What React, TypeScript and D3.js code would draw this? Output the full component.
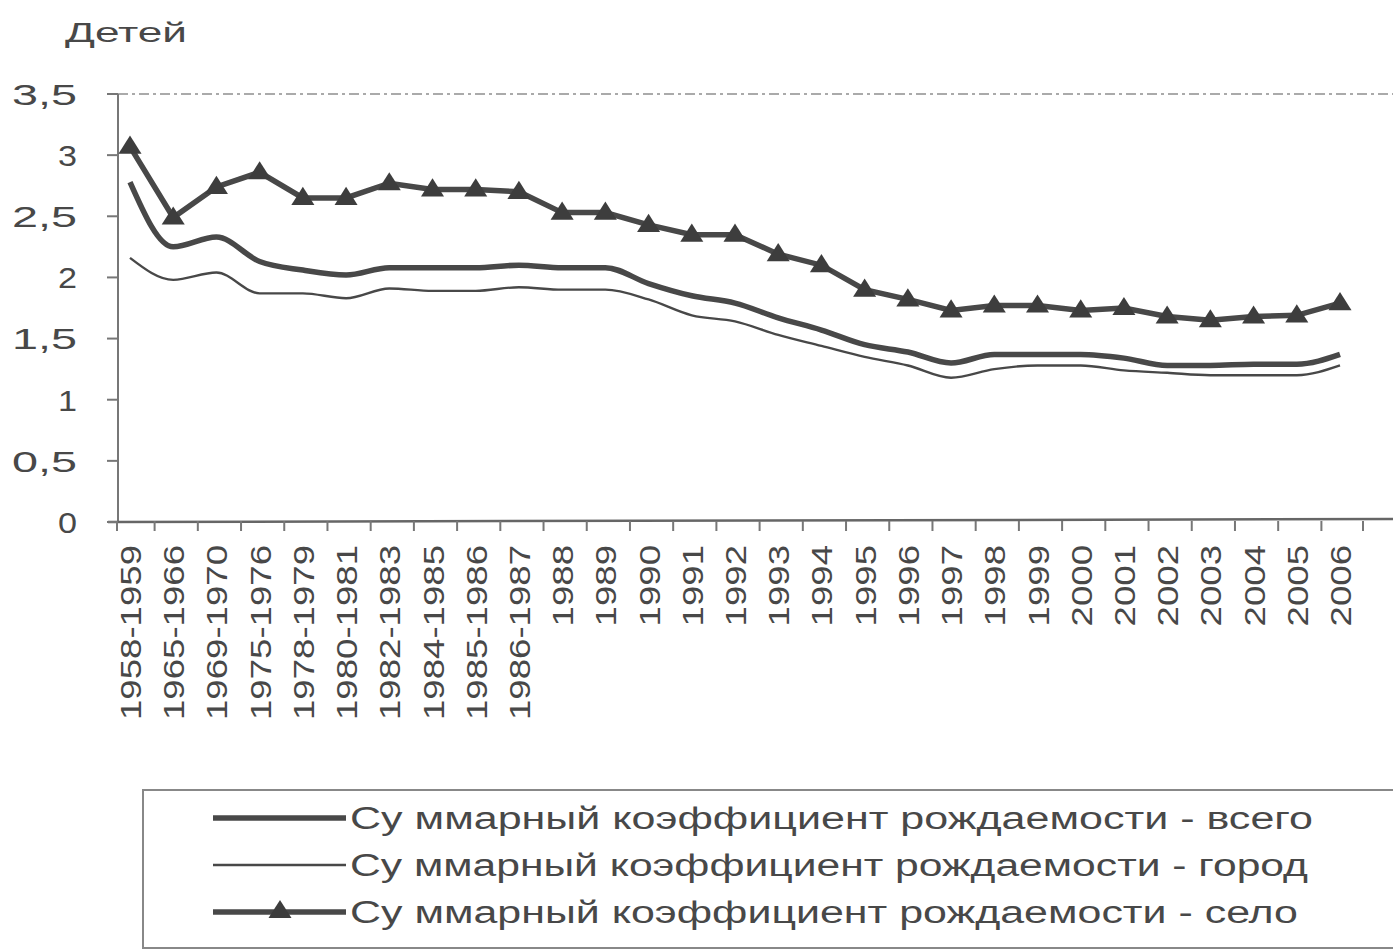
import * as d3 from 'd3'

const categories = [
  '1958-1959', '1965-1966', '1969-1970', '1975-1976', '1978-1979', '1980-1981',
  '1982-1983', '1984-1985', '1985-1986', '1986-1987', '1988', '1989', '1990',
  '1991', '1992', '1993', '1994', '1995', '1996', '1997', '1998', '1999', '2000',
  '2001', '2002', '2003', '2004', '2005', '2006',
]

const total = [
  2.78, 2.25, 2.33, 2.13, 2.06, 2.02, 2.08, 2.08, 2.08, 2.1, 2.08, 2.08, 1.95,
  1.85, 1.79, 1.67, 1.57, 1.45, 1.39, 1.3, 1.37, 1.37, 1.37, 1.34, 1.28, 1.28,
  1.29, 1.29, 1.37,
]

const city = [
  2.16, 1.98, 2.04, 1.87, 1.87, 1.83, 1.91, 1.89, 1.89, 1.92, 1.9, 1.9, 1.82,
  1.69, 1.64, 1.53, 1.44, 1.35, 1.28, 1.18, 1.25, 1.28, 1.28, 1.24, 1.22, 1.2,
  1.2, 1.2, 1.28,
]

const village = [
  3.07, 2.49, 2.74, 2.86, 2.65, 2.65, 2.77, 2.72, 2.72, 2.7, 2.53, 2.53, 2.43,
  2.35, 2.35, 2.19, 2.1, 1.9, 1.82, 1.73, 1.77, 1.77, 1.73, 1.75, 1.68, 1.65,
  1.68, 1.69, 1.79,
]

const yTicks = [0, 0.5, 1, 1.5, 2, 2.5, 3, 3.5]

const legendLabels = [
  'Су ммарный коэффициент рождаемости - всего',
  'Су ммарный коэффициент рождаемости - город',
  'Су ммарный коэффициент рождаемости - село',
]

const W = 1393, H = 952
const ink = '#484848'
const font = 'Liberation Sans, Arial, sans-serif'

const x = d3.scalePoint<string>().domain(categories).range([130, 1340])
const y = d3.scaleLinear().domain([0, 3.5]).range([522, 94])
const line = (curve: d3.CurveFactory) => d3.line<number>()
  .x((_, i) => x(categories[i])!)
  .y(d => y(d))
  .curve(curve)

const tri = d3.symbol().type(d3.symbolTriangle).size(190)()

const fmt = (v: number) => String(v).replace('.', ',')

export default function App() {
  const step = x.step()
  const xTicks = [117, ...categories.slice(1).map(c => x(c)! - step / 2 + 3), 1363]
  return (
    <svg width={W} height={H} style={{ position: 'absolute', left: 0, top: 0, background: '#fff' }}
      fontFamily={font} fill={ink}>
      <text x={65} y={42} fontSize={28} textLength={122} lengthAdjust="spacingAndGlyphs">Детей</text>

      {/* frame */}
      <line x1={118} x2={1393} y1={y(3.5)} y2={y(3.5)} stroke="#aaa" strokeWidth={2} strokeDasharray="10 4 3 4" />
      <line x1={118} x2={118} y1={y(3.5)} y2={y(0)} stroke="#777" strokeWidth={2} />
      <line x1={108} x2={1393} y1={y(0)} y2={y(0) - 3} stroke="#666" strokeWidth={2.5} />

      {yTicks.map(t => (
        <g key={t}>
          <line x1={107} x2={118} y1={y(t)} y2={y(t)} stroke="#777" strokeWidth={2} />
          <text x={77} y={y(t)} dy="0.36em" textAnchor="end" fontSize={30}
            textLength={String(t).length > 1 ? 65 : 19}
            lengthAdjust="spacingAndGlyphs">{fmt(t)}</text>
        </g>
      ))}

      {xTicks.map((tx, i) => (
        <line key={i} x1={tx} x2={tx} y1={y(0) - 1} y2={y(0) + 9} stroke="#777" strokeWidth={2} />
      ))}

      {categories.map(c => (
        <text key={c} transform={`translate(${x(c)! + 11},545) rotate(-90) scale(1.22,1)`} textAnchor="end"
          fontSize={30}>{c}</text>
      ))}

      <path d={line(d3.curveMonotoneX)(city)!} fill="none" stroke={ink} strokeWidth={2.4} />
      <path d={line(d3.curveMonotoneX)(total)!} fill="none" stroke={ink} strokeWidth={5.5} />
      <path d={line(d3.curveLinear)(village)!} fill="none" stroke={ink} strokeWidth={5.5} />
      {village.map((v, i) => (
        <path key={i} d={tri!} transform={`translate(${x(categories[i])},${y(v) + 1}) scale(1.1,1)`} fill="#3d3d3d" />
      ))}

      {/* legend */}
      <rect x={143} y={790} width={1270} height={158} fill="none" stroke="#888" strokeWidth={2} />
      {legendLabels.map((l, i) => {
        const ly = 818 + i * 47
        return (
          <g key={l}>
            <line x1={213} x2={346} y1={ly} y2={ly} stroke={ink} strokeWidth={i === 1 ? 2.5 : 5.5} />
            {i === 2 && <path d={tri!} transform={`translate(280,${ly}) scale(1.1,1)`} fill="#3d3d3d" />}
            <text x={350} y={ly + 11} fontSize={31}
              textLength={[963, 958, 948][i]} lengthAdjust="spacingAndGlyphs">{l}</text>
          </g>
        )
      })}
    </svg>
  )
}
